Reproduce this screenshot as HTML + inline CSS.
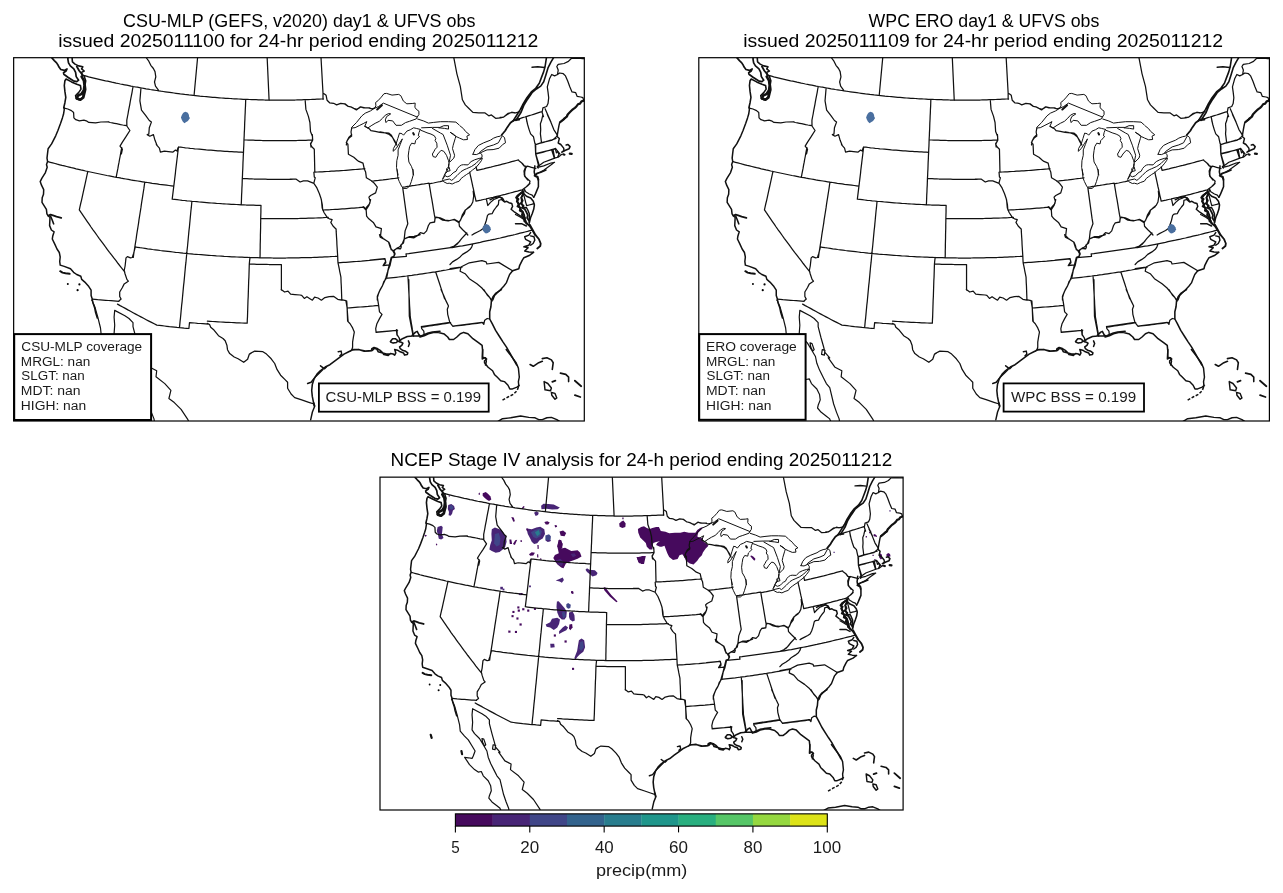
<!DOCTYPE html>
<html><head><meta charset="utf-8"><style>
html,body{margin:0;padding:0;background:#fff;overflow:hidden;width:1283px;height:893px;}
svg{display:block;font-family:"Liberation Sans",sans-serif;will-change:transform;}
</style></head><body>
<svg width="1283" height="893" viewBox="0 0 1283 893">
<defs><clipPath id="cTL"><rect x="13.65" y="57.7" width="570.65" height="363.3"/></clipPath><clipPath id="cTR"><rect x="698.8" y="57.7" width="570.6000000000001" height="363.3"/></clipPath><clipPath id="cBM"><rect x="380.0" y="477.15" width="523.1" height="332.85"/></clipPath><g id="map"><path d="M84.3,75.7 L86.4,76.2 L88.6,76.8 L90.7,77.3 L92.8,77.8 L94.9,78.3 L97.0,78.8 L99.1,79.3 L101.2,79.8 L103.3,80.3 L105.5,80.8 L107.6,81.2 L109.7,81.7 L111.8,82.2 L114.0,82.6 L116.1,83.1 L118.2,83.5 L120.3,84.0 L122.5,84.4 L124.6,84.8 L126.7,85.2 L128.9,85.6 L131.0,86.1 L133.1,86.5 L135.3,86.9 L137.4,87.2 L139.5,87.6 L141.7,88.0 L143.8,88.4 L146.0,88.8 L148.1,89.1 L150.2,89.5 L152.4,89.8 L154.5,90.2 L156.7,90.5 L158.8,90.8 L161.0,91.2 L163.1,91.5 L165.3,91.8 L167.4,92.1 L169.6,92.4 L171.7,92.7 L173.9,93.0 L176.0,93.3 L178.2,93.6 L180.3,93.9 L182.5,94.1 L184.7,94.4 L186.8,94.6 L189.0,94.9 L191.1,95.1 L193.3,95.4 L195.4,95.6 L197.6,95.8 L199.8,96.1 L201.9,96.3 L204.1,96.5 L206.3,96.7 L208.4,96.9 L210.6,97.1 L212.7,97.3 L214.9,97.4 L217.1,97.6 L219.2,97.8 L221.4,98.0 L223.6,98.1 L225.7,98.3 L227.9,98.4 L230.1,98.5 L232.2,98.7 L234.4,98.8 L236.6,98.9 L238.8,99.0 L240.9,99.1 L243.1,99.3 L245.3,99.3 L247.4,99.4 L249.6,99.5 L251.8,99.6 L253.9,99.7 L256.1,99.7 L258.3,99.8 L260.5,99.9 L262.6,99.9 L264.8,100.0 L267.0,100.0 L269.2,100.0 L271.3,100.1 L273.5,100.1 L275.7,100.1 L277.8,100.1 L280.0,100.1 L282.2,100.1 L284.4,100.1 L286.5,100.1 L288.7,100.1 L290.9,100.0 L293.0,100.0 L295.2,100.0 L297.4,99.9 L299.6,99.9 L301.7,99.8 L303.9,99.7 L306.1,99.7 L308.3,99.6 L310.4,99.5 L312.6,99.4 L314.8,99.3 L316.9,99.2 L319.1,99.1 L321.3,99.0 L323.4,98.9 M133.1,86.5 L132.5,89.5 L132.0,92.6 L131.4,95.7 L130.8,98.7 L130.2,101.8 L129.7,104.8 L129.1,107.9 L128.5,110.9 L128.0,114.0 L127.4,117.0 L126.8,120.1 L126.8,122.9 L126.9,125.7 M108.2,122.0 L110.2,122.5 L112.3,122.9 L114.4,123.3 L116.5,123.7 L118.5,124.1 L120.6,124.6 L122.7,125.0 L124.8,125.3 L126.9,125.7 M121.8,147.6 L121.2,150.5 L120.6,153.5 L120.1,156.5 L119.5,159.5 L119.0,162.4 L118.4,165.4 L117.9,168.4 L117.3,171.3 L116.7,174.3 L116.2,177.3 M48.0,161.7 L50.3,162.3 L52.7,162.9 L55.0,163.5 L57.3,164.2 L59.7,164.8 L62.0,165.4 L64.4,165.9 L66.7,166.5 L69.1,167.1 L71.4,167.7 L73.8,168.2 L76.1,168.8 L78.5,169.3 L80.8,169.9 L83.2,170.4 L85.6,171.0 L87.9,171.5 L90.3,172.0 L92.7,172.5 L95.0,173.0 L97.4,173.5 L99.8,174.0 L102.1,174.5 L104.5,175.0 L106.9,175.5 L109.3,175.9 L111.6,176.4 L114.0,176.9 L116.4,177.3 L118.8,177.7 L121.1,178.2 L123.5,178.6 L125.9,179.0 L128.3,179.4 L130.7,179.9 L133.1,180.3 L135.5,180.7 L137.8,181.0 L140.2,181.4 L142.6,181.8 L145.0,182.2 L147.4,182.5 L149.8,182.9 L152.2,183.3 L154.6,183.6 L157.0,183.9 L159.4,184.3 L161.8,184.6 L164.2,184.9 L166.6,185.2 L169.0,185.5 L171.4,185.8 L173.8,186.1 M87.8,171.5 L87.1,174.7 L86.4,177.9 L85.7,181.1 L85.0,184.3 L84.3,187.5 L83.6,190.7 L82.9,193.9 L82.2,197.1 L81.5,200.3 L80.7,203.5 L80.0,206.7 L79.3,209.8 L81.2,212.7 L83.2,215.6 L85.1,218.4 L87.1,221.3 L89.1,224.1 L91.0,227.0 L93.0,229.8 L95.1,232.6 L97.1,235.5 L99.1,238.3 L101.2,241.1 L103.3,243.9 L105.3,246.7 L107.4,249.5 L109.5,252.3 L111.7,255.1 L113.8,257.9 L116.0,260.7 L118.1,263.5 L120.3,266.3 L122.5,269.1 L124.7,271.9 M144.8,182.1 L144.3,185.3 L143.9,188.4 L143.4,191.5 L142.9,194.7 L142.4,197.8 L141.9,200.9 L141.4,204.1 L141.0,207.2 L140.5,210.3 L140.0,213.5 L139.5,216.6 L139.0,219.7 L138.6,222.8 L138.1,226.0 L137.6,229.1 L137.1,232.2 L136.6,235.3 L136.2,238.5 L135.7,241.6 L135.2,244.7 L134.7,247.9 L134.2,251.0 L133.7,254.1 L133.3,257.3 M92.3,299.2 L95.0,299.4 L97.7,299.7 L100.3,299.9 L103.0,300.1 L105.7,300.3 L108.3,300.5 L111.0,300.7 L113.7,300.9 L116.3,301.1 L119.0,301.3 M117.5,304.1 L120.1,305.6 L122.7,307.0 L125.3,308.4 L127.9,309.9 L130.5,311.3 L133.1,312.7 L135.7,314.1 L138.3,315.5 L140.9,316.9 L143.6,318.3 L146.2,319.7 L148.9,321.1 L151.5,322.4 L154.2,323.8 L156.8,325.1 L159.4,325.4 L161.9,325.7 L164.4,326.0 L166.9,326.3 L169.4,326.6 L171.9,326.8 L174.5,327.1 L177.0,327.4 L179.5,327.6 M134.9,246.9 L137.4,247.3 L139.9,247.7 L142.5,248.0 L145.0,248.4 L147.6,248.8 L150.1,249.1 L152.6,249.5 L155.2,249.8 L157.7,250.1 L160.3,250.5 L162.8,250.8 L165.4,251.1 L167.9,251.4 L170.5,251.7 L173.0,252.0 L175.5,252.3 L178.1,252.5 L180.7,252.8 L183.2,253.1 L185.8,253.3 L188.3,253.6 L190.9,253.8 L193.4,254.1 L196.0,254.3 L198.5,254.5 L201.1,254.7 L203.6,254.9 L206.2,255.1 L208.8,255.3 L211.3,255.5 L213.9,255.7 L216.4,255.9 L219.0,256.0 L221.6,256.2 L224.1,256.4 L226.7,256.5 L229.2,256.6 L231.8,256.8 L234.4,256.9 L236.9,257.0 L239.5,257.1 L242.0,257.2 L244.6,257.3 L247.2,257.4 L249.7,257.5 L252.3,257.6 L254.9,257.7 L257.4,257.7 L260.0,257.8 M178.5,147.0 L178.1,150.2 L177.7,153.5 L177.3,156.8 L176.9,160.0 L176.5,163.3 L176.1,166.6 L175.7,169.8 L175.4,173.1 L175.0,176.3 L174.6,179.6 L174.2,182.9 L173.8,186.1 L173.4,189.4 L173.0,192.6 L172.6,195.9 L172.2,199.1 L174.7,199.4 L177.1,199.7 L179.6,200.0 L182.1,200.3 L184.5,200.5 L187.0,200.8 L189.4,201.0 L191.9,201.3 M178.5,147.0 L180.8,147.2 L183.1,147.5 L185.4,147.8 L187.8,148.0 L190.1,148.3 L192.4,148.5 L194.7,148.8 L197.0,149.0 L199.3,149.2 L201.7,149.4 L204.0,149.6 L206.3,149.9 L208.6,150.1 L210.9,150.2 L213.3,150.4 L215.6,150.6 L217.9,150.8 L220.2,150.9 L222.5,151.1 L224.9,151.3 L227.2,151.4 L229.5,151.6 L231.8,151.7 L234.2,151.8 L236.5,151.9 L238.8,152.1 L241.1,152.2 L243.5,152.3 M245.7,99.4 L245.6,102.7 L245.5,106.0 L245.3,109.3 L245.2,112.6 L245.0,116.0 L244.9,119.3 L244.7,122.6 L244.6,125.9 L244.5,129.2 L244.3,132.5 L244.2,135.8 L244.0,139.1 L243.9,142.4 L243.8,145.7 L243.6,149.0 L243.5,152.3 L243.3,155.6 L243.2,158.8 L243.0,162.1 L242.9,165.4 L242.8,168.7 L242.6,172.0 L242.5,175.3 L242.3,178.5 L242.2,181.8 L242.1,185.1 L241.9,188.4 L241.8,191.7 L241.6,194.9 L241.5,198.2 L241.4,201.5 L241.2,204.8 M191.9,201.3 L194.4,201.5 L196.8,201.7 L199.3,202.0 L201.7,202.2 L204.2,202.4 L206.7,202.6 L209.1,202.8 L211.6,203.0 L214.1,203.2 L216.5,203.4 L219.0,203.5 L221.5,203.7 L223.9,203.8 L226.4,204.0 L228.9,204.1 L231.3,204.3 L233.8,204.4 L236.3,204.5 L238.7,204.6 L241.2,204.8 L243.7,204.9 L246.2,205.0 L248.6,205.0 L251.1,205.1 L253.6,205.2 L256.0,205.3 L258.5,205.3 L261.0,205.4 L260.9,208.7 L260.9,211.9 L260.8,215.2 L260.7,218.5 L263.2,218.5 L265.7,218.6 L268.2,218.6 L270.7,218.6 L273.2,218.7 L275.7,218.7 L278.2,218.7 L280.8,218.7 L283.3,218.7 L285.8,218.7 L288.3,218.6 L290.8,218.6 L293.3,218.6 L295.8,218.5 L298.3,218.5 L300.8,218.4 L303.3,218.4 L305.8,218.3 L308.3,218.2 L310.8,218.2 L313.3,218.1 L315.8,218.0 L318.3,217.9 L320.8,217.8 L323.3,217.7 L325.8,217.5 L328.3,217.4 M191.9,201.3 L191.6,204.5 L191.3,207.7 L190.9,211.0 L190.6,214.2 L190.3,217.4 L190.0,220.7 L189.7,223.9 L189.4,227.1 L189.0,230.4 L188.7,233.6 L188.4,236.8 L188.1,240.1 L187.8,243.3 L187.5,246.5 L187.1,249.8 L186.8,253.0 L186.5,256.2 L186.2,259.5 L185.9,262.7 L185.5,265.9 L185.2,269.2 L184.9,272.4 L184.6,275.7 L184.3,278.9 L184.0,282.1 L183.6,285.4 L183.3,288.6 L183.0,291.9 L182.7,295.1 L182.4,298.3 L182.1,301.6 L181.7,304.8 L181.4,308.1 L181.1,311.3 L180.8,314.6 L180.5,317.8 L180.1,321.1 L179.8,324.4 L179.5,327.6 M261.0,205.4 L260.9,208.7 L260.9,211.9 L260.8,215.2 L260.7,218.5 L260.7,221.8 L260.6,225.0 L260.6,228.3 L260.5,231.6 L260.4,234.9 L260.4,238.1 L260.3,241.4 L260.2,244.7 L260.2,248.0 L260.1,251.2 L260.1,254.5 L260.0,257.8 M244.0,139.9 L246.3,140.0 L248.6,140.1 L250.9,140.2 L253.2,140.2 L255.5,140.3 L257.7,140.4 L260.0,140.4 L262.3,140.5 L264.6,140.5 L266.9,140.6 L269.2,140.6 L271.5,140.6 L273.8,140.6 L276.1,140.6 L278.4,140.7 L280.7,140.7 L282.9,140.6 L285.2,140.6 L287.5,140.6 L289.8,140.6 L292.1,140.6 L294.4,140.5 L296.7,140.5 L299.0,140.4 L301.3,140.4 L303.6,140.3 L305.9,140.3 L308.2,140.2 L310.4,140.1 L312.7,140.0 M242.3,178.5 L244.7,178.6 L247.0,178.7 L249.3,178.8 L251.6,178.9 L253.9,179.0 L256.2,179.0 L258.6,179.1 L260.9,179.1 L263.2,179.2 L265.5,179.2 L267.8,179.3 L270.1,179.3 L272.5,179.3 L274.8,179.3 L277.1,179.3 L279.4,179.4 L281.7,179.3 L284.0,179.3 L286.4,179.3 L288.7,179.3 L291.0,179.3 L293.3,179.2 L295.6,179.2 M250.0,257.5 L249.6,260.8 L249.3,264.1 L251.8,264.1 L254.2,264.2 L256.7,264.3 L259.2,264.3 L261.6,264.4 L264.1,264.4 L266.6,264.4 L269.0,264.5 L271.5,264.5 L274.0,264.5 L276.4,264.5 L278.9,264.5 L281.4,264.5 L281.4,267.7 L281.4,270.9 L281.4,274.1 L281.4,277.3 L281.4,280.4 L281.4,283.6 L281.4,286.8 L281.4,290.0 M249.3,264.1 L249.2,267.3 L249.1,270.6 L249.0,273.9 L248.9,277.2 L248.7,280.4 L248.6,283.7 L248.5,287.0 L248.4,290.3 L248.3,293.6 L248.2,296.8 L248.0,300.1 L247.9,303.4 L247.8,306.7 L247.7,310.0 L247.6,313.3 L247.5,316.6 L247.3,319.9 L247.2,323.2 L244.6,323.1 L241.9,323.0 L239.3,322.9 L236.6,322.8 L234.0,322.6 L231.3,322.5 L228.6,322.4 L226.0,322.3 L223.3,322.1 L220.7,322.0 L218.0,321.8 L215.4,321.6 L212.7,321.5 L210.1,321.3 L207.4,321.1 M208.2,324.1 L205.6,323.9 L202.9,323.7 L200.2,323.5 L197.5,323.3 L194.8,323.0 L192.1,322.8 L189.5,322.6 L189.2,325.5 L188.9,328.5 L186.6,328.3 L184.2,328.1 L181.9,327.8 L179.5,327.6 M336.1,228.8 L336.2,231.9 L336.4,235.0 L336.6,238.0 L336.8,241.1 L336.9,244.2 L337.1,247.3 L337.3,250.4 L337.5,253.5 L337.7,256.6 L337.8,259.7 L338.0,262.8 M260.0,257.8 L262.6,257.8 L265.2,257.9 L267.8,257.9 L270.3,257.9 L272.9,258.0 L275.5,258.0 L278.1,258.0 L280.7,258.0 L283.3,258.0 L285.9,258.0 L288.5,257.9 L291.1,257.9 L293.6,257.9 L296.2,257.8 L298.8,257.8 L301.4,257.7 L304.0,257.7 L306.6,257.6 L309.2,257.5 L311.8,257.5 L314.3,257.4 L316.9,257.3 L319.5,257.2 L322.1,257.1 L324.7,256.9 L327.3,256.8 L329.9,256.7 L332.4,256.5 L335.0,256.4 L337.6,256.2 M338.0,262.8 L340.6,262.6 L343.2,262.4 L345.8,262.3 L348.5,262.1 L351.1,261.9 L353.7,261.7 L356.3,261.5 L358.9,261.3 L361.5,261.1 L364.1,260.8 L366.7,260.6 L369.3,260.4 L371.9,260.1 L374.5,259.9 L377.1,259.6 L379.7,259.3 L382.3,259.1 L384.9,258.8 M383.3,265.5 L385.6,265.3 L387.8,265.1 L390.1,264.8 M338.0,262.8 L338.6,265.6 L339.2,268.5 L339.7,271.3 L340.3,274.2 L340.9,277.1 L341.0,279.9 L341.1,282.8 L341.3,285.7 L341.4,288.6 L341.5,291.5 L341.6,294.4 L341.7,297.3 L341.8,300.2 M346.7,301.0 L346.9,303.4 L347.0,305.7 L347.2,308.0 L349.8,307.8 L352.4,307.6 L355.1,307.4 L357.7,307.2 L360.3,307.0 L363.0,306.8 L365.6,306.6 L368.2,306.4 L370.9,306.1 L373.5,305.9 L376.1,305.6 L378.7,305.4 M347.2,308.0 L347.3,310.7 L347.5,313.4 L347.7,316.1 L347.9,318.8 L348.1,321.5 M376.1,332.4 L378.7,332.1 L381.4,331.9 L384.1,331.6 L386.8,331.3 L389.5,331.1 L392.2,330.8 L394.9,330.5 L397.6,330.2 M385.4,278.5 L388.0,278.2 L390.7,277.9 L393.4,277.6 L396.0,277.3 L398.7,277.0 L401.3,276.7 L404.0,276.3 L406.6,276.0 L409.3,275.6 L411.9,275.3 L414.6,274.9 L417.2,274.6 L419.9,274.2 L422.5,273.8 L425.2,273.4 L427.8,273.0 L430.4,272.6 L433.1,272.2 L435.7,271.8 L438.4,271.3 L441.0,270.9 L443.6,270.4 L446.3,270.0 L448.9,269.5 L451.5,269.1 L454.2,268.6 L456.8,268.1 L459.4,267.6 L462.1,267.1 M407.9,275.8 L408.1,279.0 L408.3,282.1 L408.5,285.2 L408.6,288.4 L408.8,291.5 L409.0,294.6 L409.2,297.8 L409.4,300.9 L409.5,304.1 L409.7,307.2 L409.9,310.4 L410.1,313.5 L410.2,316.7 L410.8,319.9 L411.3,323.2 L411.9,326.4 L412.4,329.7 L413.0,332.9 L413.6,336.2 M435.6,271.8 L436.6,274.8 L437.6,277.8 L438.6,280.8 L439.6,283.8 L440.6,286.9 L441.6,289.9 L442.6,292.9 L443.6,295.9 L444.6,298.9 M421.5,327.1 L424.2,326.8 L426.8,326.4 L429.5,326.0 L432.1,325.6 L434.8,325.2 L437.4,324.8 L440.1,324.4 L442.7,324.0 L445.4,323.6 L448.0,323.1 L450.6,322.7 M452.9,326.3 L455.6,326.0 L458.4,325.7 L461.1,325.4 L463.8,325.1 L466.6,324.7 L469.3,324.4 L472.0,324.0 L474.8,323.7 L477.5,323.3 L480.2,322.9 L483.0,322.5 M472.8,243.8 L475.3,243.3 L477.8,242.8 L480.3,242.3 L482.8,241.7 L485.3,241.2 L487.8,240.7 L490.3,240.2 L492.8,239.6 L495.3,239.1 L497.8,238.5 L500.3,238.0 L502.8,237.4 L505.2,236.8 L507.7,236.2 L510.2,235.6 L512.7,235.1 L515.2,234.5 L517.6,233.8 L520.1,233.2 L522.6,232.6 L525.0,232.0 L527.5,231.4 L530.0,230.7 L532.4,230.1 M452.2,247.6 L454.7,247.2 L457.3,246.7 L459.9,246.2 L462.5,245.8 L465.1,245.3 L467.7,244.8 L470.3,244.3 L472.8,243.8 M476.0,201.2 L478.5,200.6 L480.9,200.1 L483.4,199.5 L485.8,199.0 L488.3,198.4 L490.7,197.8 L493.1,197.3 L495.6,196.7 L498.0,196.1 L500.5,195.5 L502.9,194.9 L505.3,194.3 L507.8,193.6 L510.2,193.0 L512.6,192.4 L515.0,191.7 L517.5,191.1 L519.9,190.4 L522.3,189.8 M473.5,189.4 L472.8,186.5 L472.2,183.7 L471.6,180.8 L471.0,178.0 L470.3,175.1 L469.7,172.2 M476.0,201.2 L475.4,198.2 L474.7,195.3 L474.1,192.3 L473.5,189.4 M486.3,198.9 L486.8,201.1 L487.3,203.3 L487.8,205.5 M476.1,166.9 L476.5,168.6 L476.9,170.4 L479.2,169.8 L481.5,169.3 L483.8,168.8 L486.2,168.2 L488.5,167.6 L490.8,167.1 L493.1,166.5 L495.4,165.9 L497.7,165.4 L500.0,164.8 L502.3,164.2 L504.7,163.6 L507.0,163.0 L509.3,162.4 L511.6,161.7 L513.9,161.1 L516.2,160.5 L518.5,159.9 M522.3,189.8 L523.0,192.4 L523.8,195.1 L524.5,197.7 L525.2,200.4 L525.9,203.1 L526.7,205.7 L529.1,205.0 L531.5,204.4 L534.0,203.7 M434.9,217.4 L434.3,214.4 L433.8,211.3 L433.3,208.3 L432.8,205.2 L432.3,202.2 L431.8,199.1 L431.2,196.1 L430.7,193.0 L430.2,189.9 L429.7,186.9 L429.2,183.8 M429.2,183.8 L431.4,183.4 L433.5,183.0 L435.7,182.5 L437.9,182.0 L440.1,181.6 L442.3,181.1 M402.9,187.1 L405.3,186.8 L407.7,186.4 L410.1,186.1 L412.4,185.7 L414.8,185.4 L417.2,185.0 L419.6,184.6 L421.9,184.2 L424.3,183.9 L426.7,183.5 L429.0,183.1 M371.6,181.1 L373.9,180.9 L376.2,180.6 L378.5,180.4 L380.7,180.1 L383.0,179.9 L385.3,179.6 L387.6,179.3 L389.8,179.0 L392.1,178.7 L394.4,178.5 L396.6,178.2 L398.9,177.8 M315.0,172.1 L317.4,172.0 L319.8,171.9 L322.2,171.8 L324.5,171.6 L326.9,171.5 L329.3,171.4 L331.6,171.2 L334.0,171.1 L336.4,170.9 L338.7,170.8 L341.1,170.6 L343.5,170.5 L345.8,170.3 L348.2,170.1 L350.6,169.9 L352.9,169.7 L355.3,169.5 L357.7,169.3 L360.0,169.1 L362.4,168.9 L364.8,168.6 M323.4,210.0 L325.7,209.9 L328.1,209.8 L330.4,209.7 L332.8,209.5 L335.2,209.4 L337.5,209.3 L339.9,209.1 L342.2,208.9 L344.6,208.8 L347.0,208.6 L349.3,208.4 L351.7,208.2 L354.0,208.1 L356.4,207.9 L358.7,207.7 L361.1,207.4 L363.5,207.2 M527.1,166.1 L529.2,166.7 L531.4,167.3 L533.6,167.9 L535.9,168.5 M535.2,144.7 L537.3,144.1 L539.4,143.5 L541.5,142.9 L543.6,142.3 L545.7,141.7 L547.8,141.0 L549.9,140.4 L552.0,139.8 L554.1,139.1 L556.1,138.5 M535.8,154.2 L538.0,153.5 L540.3,152.9 L542.6,152.3 L544.8,151.6 L547.1,151.0 L549.4,150.3 L551.6,149.6 M551.6,149.6 L552.5,152.6 L553.5,155.5 L554.4,158.4 M551.6,149.6 L553.6,149.0 L555.5,148.4 L557.0,150.3 L558.5,152.2 L560.0,154.1 M535.2,144.7 L535.4,147.9 L535.5,151.0 L535.7,154.2 M535.8,154.2 L536.6,156.8 L537.4,159.4 L538.2,162.0 L539.0,164.7 L537.1,166.8 L538.2,168.1 M513.8,120.2 L516.0,119.6 L518.2,118.9 L520.4,118.3 L522.6,117.6 L524.8,117.0 L527.0,116.3 L529.2,115.6 L531.4,115.0 L533.6,114.3 L535.7,113.6 L537.9,112.9 L540.1,112.2 L542.3,111.5 M250.0,257.5 L252.5,257.6 L255.0,257.7 L257.5,257.7 L260.0,257.8 M64.2,108.1 L67.8,109.0 L71.4,110.6 L73.6,112.5 L73.9,117.9 L75.8,119.7 L79.4,120.8 L83.9,120.2 L87.0,121.2 L88.8,122.4 L95.6,122.8 L100.9,122.0 L109.0,121.8 M126.5,125.5 L129.9,130.5 L126.0,136.7 L122.4,142.1 L120.0,146.1 L122.4,149.1 L121.4,153.8 M124.2,270.5 L125.1,274.0 L126.9,279.4 L128.3,281.2 L124.2,283.9 L122.4,287.5 L119.7,292.0 L119.7,296.5 L121.1,299.1 L118.9,300.9 M124.2,270.5 L125.1,266.0 L126.0,257.9 L127.4,256.6 L130.5,257.9 L132.3,257.5 L133.6,253.4 L135.4,246.7 M321.0,57.5 L323.0,93.3 M323.0,93.3 L324.1,93.8 L326.1,95.3 L327.1,100.3 L329.6,102.8 L333.6,103.3 L336.6,104.9 L340.7,103.3 L344.7,103.9 L348.2,106.4 L350.8,106.9 L353.8,108.4 L356.8,109.4 L360.8,106.9 L364.9,107.9 L370.0,107.9 M323.0,99.3 L323.0,93.3 M305.2,100.8 L305.9,109.4 L308.4,116.4 L309.9,122.5 L310.5,131.6 L312.5,136.6 L312.5,140.6 L310.5,143.6 L311.0,147.0 M267.1,56.5 L269.1,100.3 M345.0,103.8 L348.4,106.5 L351.7,107.2 L356.4,109.9 L360.4,106.8 L363.8,107.8 L368.5,107.8 L371.9,108.8 L374.6,108.2 M351.7,128.0 L351.0,132.0 L351.7,136.0 L349.0,138.1 L347.0,140.8 L346.3,145.0 M364.8,126.3 L369.2,128.7 L370.9,130.7 L375.2,131.3 L379.9,132.4 L385.3,133.0 L389.3,134.4 L392.0,136.7 L394.7,140.8 L396.7,145.0 M380.0,131.8 L384.0,132.5 L388.7,133.1 L391.4,135.2 L393.1,138.5 L394.8,141.9 L396.1,143.9 M146.1,57.5 L148.8,61.2 L150.8,65.3 L153.4,68.5 L155.0,71.6 L155.8,76.8 L154.5,82.0 L155.5,86.2 L158.6,90.3 M197.7,56.5 L194.1,95.0 M140.9,88.8 L139.9,100.8 L141.5,110.1 L145.6,115.3 L149.3,120.5 L151.4,122.1 L149.3,127.8 L148.8,134.1 L147.2,134.6 L149.8,136.2 L153.4,134.6 L155.0,140.3 L157.1,145.5 M156.3,144.6 L159.4,148.1 L160.4,152.1 L164.4,151.1 L168.4,151.6 L173.0,152.1 L175.5,150.1 L177.0,151.1 L178.0,147.6 M473.2,191.1 L473.7,196.1 L472.8,202.0 L471.1,205.3 L467.8,207.9 L465.3,210.4 L464.4,213.7 L461.9,217.1 L460.2,220.5 L459.0,222.6 L454.3,219.6 L449.3,220.5 L445.1,220.0 L440.1,217.9 L435.9,217.1 L435.0,218.8 L434.6,222.1 L430.0,223.0 M459.0,222.6 L459.4,226.3 L462.7,229.7 L466.1,233.0 L467.8,235.0 M503.9,201.6 L501.4,199.5 L498.8,200.3 L498.4,204.5 L496.3,207.0 L493.8,210.4 L492.1,213.7 L488.8,214.2 L487.5,215.4 L486.3,220.5 L484.6,225.5 L482.9,228.8 L480.4,230.5 L477.0,232.2 L473.7,233.9 L472.0,235.0 M487.9,205.3 L490.5,202.4 L493.8,199.5 L497.2,198.2 L499.3,196.9 L502.2,197.8 L503.9,201.6 M519.0,160.8 L522.4,163.4 L524.9,166.7 L526.6,167.1 M525.7,166.7 L524.0,170.9 L524.5,176.0 L526.6,178.5 L529.9,181.0 M529.9,183.5 L527.4,186.0 L524.0,188.5 L522.4,189.8 M500.0,117.4 L502.9,117.4 L507.3,114.5 L511.6,112.3 L514.6,113.0 M542.9,107.9 L546.6,106.5 L548.0,103.6 L548.7,97.7 L548.0,91.9 L547.3,86.8 L549.5,78.8 L551.7,74.5 L554.6,75.9 L557.5,74.5 L559.7,73.0 L563.3,73.7 L565.5,75.9 L567.7,81.0 L569.8,86.8 L572.0,91.9 L575.7,92.7 L577.1,96.3 L580.8,97.0 L582.9,97.7 L583.7,100.7 M557.5,74.5 L558.2,70.1 L556.8,66.5 L558.2,64.3 L564.0,63.5 L568.4,61.4 L571.3,58.5 L576.4,58.1 L581.5,58.5 L584.4,58.5 M542.9,107.9 L542.1,112.3 L543.5,116.7 M545.1,108.7 L550.9,122.0 M526.2,117.4 L526.9,122.0 M526.2,117.9 L527.6,124.5 L529.1,129.6 L530.6,133.9 L533.5,136.8 L534.9,143.4 L535.7,144.5 M542.9,114.6 L541.5,120.8 L540.4,123.7 L540.7,129.6 L540.4,133.9 L541.5,142.6 M547.3,114.6 L550.9,122.3 L553.8,129.6 L557.5,135.4 M535.7,144.5 L541.5,142.6 L552.4,140.1 L555.3,137.6 L557.5,135.7 M535.7,153.6 L552.4,149.6 L555.3,148.8 M553.1,149.9 L554.6,157.9 M535.7,144.5 L535.7,154.3 L538.6,165.9 M521.8,163.0 L524.0,165.9 L526.2,166.3 L524.7,171.8 L524.7,176.1 L527.6,180.0 M524.9,170.0 L524.2,174.4 L525.7,177.3 L530.0,181.3 L529.3,183.8 L526.4,186.7 L524.2,188.6 M450.0,247.7 L454.2,246.0 L458.4,242.6 L461.8,238.4 L466.8,233.0 M472.7,244.3 L471.8,246.8 L470.2,249.3 L466.8,251.9 L462.6,254.4 L460.1,256.9 L456.7,259.4 L452.5,261.9 L450.0,264.5 M450.0,268.7 L460.9,267.0 L469.3,262.8 L481.9,260.7 L486.1,261.9 L486.9,264.0 L498.7,262.4 L512.6,270.8 M460.9,267.4 L460.1,271.2 L465.1,273.7 L469.3,278.7 L476.9,283.8 L481.9,288.0 L485.3,292.2 L489.5,297.2 L491.1,300.0 M441.0,289.6 L443.5,295.0 L446.0,300.9 L448.5,306.0 L447.3,309.3 L447.7,314.3 L449.0,319.4 L449.8,322.3 M449.8,322.3 L452.7,326.1 L482.1,322.3 L483.8,324.4 L484.7,320.2 L487.2,318.5 L489.7,319.0 M421.3,326.5 L421.7,328.6 L423.8,331.1 L424.2,335.3 M421.3,326.5 L449.8,322.3 M483.8,289.6 L487.2,295.0 L490.5,298.4 L492.2,300.9 M341.3,299.7 L345.9,300.6 L347.1,307.7 M347.1,307.7 L347.6,321.1 L350.1,323.7 L352.6,327.9 L354.3,332.1 L353.4,337.1 L352.6,342.1 L352.6,347.2 L351.8,349.7 M385.3,279.6 L382.8,285.0 L380.3,289.2 L378.6,293.4 L377.4,297.6 L378.6,305.2 L379.5,311.9 L382.0,314.4 L379.5,318.6 L376.9,323.7 L375.7,328.7 L376.1,332.1 M376.1,332.1 L397.1,330.4 M397.1,330.4 L397.1,334.6 L399.6,338.8 L400.5,340.5 M408.8,279.6 L409.3,316.1 L413.0,335.4 M250.0,353.5 L254.7,351.1 L262.9,351.7 L266.5,354.1 L271.2,358.8 L274.7,363.5 L277.0,369.4 L280.6,375.2 L285.3,379.9 L287.6,382.3 L287.6,388.2 L291.1,394.0 L294.7,397.6 L301.7,399.9 L308.8,402.3 L314.1,404.0 M207.3,323.4 L209.6,324.5 L210.7,327.3 L214.0,330.1 L218.5,335.7 L223.0,338.5 L225.2,340.8 L226.9,345.2 L227.5,349.7 L229.7,353.6 L234.2,357.0 L238.1,358.7 L243.7,362.3 L247.6,359.2 L249.3,354.2 L251.0,353.5 M312.3,134.6 L312.7,140.0 L310.6,144.2 L311.8,146.8 L314.3,149.3 L314.8,171.9 L313.9,172.4 M313.9,172.4 L314.3,177.0 L315.2,177.8 L313.9,182.9 M290.0,179.1 L295.9,179.1 L300.1,182.0 L303.4,180.8 L307.6,180.8 L313.9,183.3 M313.9,183.3 L316.9,187.9 L319.4,193.8 L321.1,198.8 L322.3,204.7 L322.7,210.0 M363.0,206.8 L366.0,210.0 M351.7,134.6 L348.8,137.5 L347.1,140.9 L346.3,142.6 L347.9,144.2 L348.4,154.3 L353.8,157.3 L357.2,160.2 L358.8,161.4 L363.0,163.1 L364.3,169.0 M364.3,169.0 L365.6,171.9 L366.4,177.8 L371.4,180.8 L374.0,182.9 L377.3,187.1 L375.6,192.9 L370.6,195.5 L368.9,197.1 L370.2,201.3 L368.9,205.5 L366.0,210.0 M321.4,199.6 L322.2,208.1 L324.0,212.5 L326.7,216.6 L327.6,217.9 L329.4,218.8 L332.1,219.7 L330.8,222.4 L333.0,226.0 L335.7,228.7 M385.0,258.7 L385.8,262.7 L383.2,265.4 L389.4,264.9 M370.6,199.6 L369.7,203.6 L366.6,207.2 L366.1,209.0 L366.6,216.1 L368.8,218.8 L373.3,222.4 L376.0,226.9 L381.4,228.7 L380.5,235.8 L383.2,238.5 L388.5,242.1 L390.3,247.5 L393.0,251.1 L394.4,253.7 L393.9,256.4 L391.2,257.3 L389.4,264.5 L387.6,271.7 L385.8,277.9 L385.0,280.0 M363.5,206.7 L366.1,209.0 M393.9,250.2 L396.6,248.4 L400.0,248.8 M402.8,188.4 L406.9,218.4 L407.8,223.7 L405.1,230.9 L404.2,239.0 M435.1,217.0 L434.6,221.9 L430.1,222.8 L428.4,225.5 L426.6,230.9 L423.9,233.6 L420.3,232.7 L417.6,235.4 L414.0,236.3 L409.6,236.7 L406.0,238.1 L404.2,239.0 L402.4,243.4 L400.6,246.1 L397.9,247.9 L394.3,250.0 M435.1,217.5 L438.2,217.5 L442.7,220.1 L448.1,221.0 L454.3,219.3 L458.8,221.9 L460.6,220.1 L462.4,214.8 L465.1,210.3 L470.0,206.7 M379.5,234.6 L380.2,237.2 L384.6,239.4 L388.9,242.3 L390.4,245.9 L391.1,249.6 L394.0,251.0 M394.0,250.7 L396.9,248.1 L400.6,248.8 L401.3,246.7 L400.6,245.2 L403.5,243.0 L404.2,239.4 L405.0,238.6 L408.6,237.2 L413.7,237.9 L417.3,235.7 L420.2,234.6 M394.0,251.0 L395.1,253.9 L394.0,256.1 L391.8,257.6 L390.8,261.9 L390.0,265.6 L388.2,270.0 L387.1,275.8 L386.4,278.3 L383.8,281.6 L382.4,286.0 L379.5,291.1 L377.3,296.2 L377.3,300.0 M391.8,257.7 L406.4,256.3 L406.0,253.9 L408.6,253.6 L452.3,247.4 L456.7,244.5 L460.0,240.8 M370.0,260.1 L384.6,258.7 L385.7,261.2 L383.1,265.6 L390.0,264.9 M453.6,56.6 L456.9,73.8 L460.3,86.4 L462.4,99.8 L465.3,104.9 L468.7,108.2 L472.9,112.4 L478.8,112.8 L484.7,112.8 L488.8,115.8 L491.4,114.9 L495.6,118.3 L500.6,117.9 L504.0,116.8 L508.2,113.3 L512.4,112.4 L515.7,112.8 L520.0,111.6 M281.2,289.4 L284.6,292.0 L288.0,291.2 L290.6,294.2 L294.9,294.6 L300.0,295.0 L301.7,295.4 L304.3,298.4 L306.9,296.7 L310.3,298.9 L312.4,300.2 L314.6,297.2 L318.0,298.0 L321.4,300.2 L324.9,297.6 L329.2,296.7 L333.5,296.3 L337.7,299.3 L341.6,300.2 M396.4,329.7 L396.9,334.9 L399.1,337.6 L399.6,340.4" fill="none" stroke="#111" stroke-width="1.25" stroke-linejoin="round" stroke-linecap="round" vector-effect="non-scaling-stroke"/><path d="M51.9,57.9 L54.3,60.6 L56.6,62.9 L57.8,64.7 L59.0,67.1 L60.8,69.5 L64.3,70.4 L67.0,68.9 L66.1,71.0 L63.5,72.7 L63.8,74.2 L67.9,77.2 L73.3,80.8 L76.8,81.6 L78.6,80.2 L76.2,76.6 L75.6,72.4 L73.8,68.9 L70.3,65.9 L68.5,62.9 L67.9,59.4 L67.9,57.6" fill="none" stroke="#111" stroke-width="1.7" stroke-linejoin="round" stroke-linecap="round" vector-effect="non-scaling-stroke"/><path d="M72.1,57.6 L72.4,61.8 L75.0,64.1 L78.6,65.9 L82.8,66.8 L81.6,68.9 L84.2,71.0 L81.6,72.4 L82.2,74.8 L84.5,76.0 M84.5,76.0 L84.5,77.2 L85.7,80.8 L85.1,84.3 L85.7,89.1 L83.9,92.6 L82.8,97.4 L79.2,99.8 L76.2,98.6 L75.6,95.6 L78.6,92.6 L81.0,89.1 L80.4,85.5 L76.8,84.3 L71.5,81.9 L66.1,79.0 L64.9,80.8 L64.3,85.5 L64.9,91.4 L65.8,97.4 L64.9,102.7 L63.8,107.5 L64.2,108.1 M50.6,216.2 L52.0,219.5 L53.6,223.8 M546.6,56.6 L545.1,66.5 L543.7,71.6 L541.5,77.4 L539.3,83.2 L535.7,88.3 L531.3,91.9 L526.9,97.7 L523.3,103.6 L520.4,109.4 L516.7,115.2 L513.1,121.0 M554.2,56.6 L550.9,62.1 L548.0,67.9 L545.8,75.2 L543.7,81.7 L540.7,86.1 L536.4,89.0 L532.0,92.7 L527.6,99.2 L524.0,105.0 L521.1,112.3 L516.0,120.3 M561.8,152.1 L565.5,150.3 L569.1,148.8 L570.0,146.6 L568.0,144.5 L566.2,145.0 M530.1,364.5 L533.3,366.3 L538.7,362.7 L542.3,361.3 M542.3,358.6 L546.9,357.7 L551.4,359.9 L553.2,362.7 L552.7,366.3 L552.3,369.4 M560.4,373.1 L565.8,374.4 L568.6,377.1 L568.6,381.6" fill="none" stroke="#111" stroke-width="1.6" stroke-linejoin="round" stroke-linecap="round" vector-effect="non-scaling-stroke"/><path d="M64.2,108.1 L64.2,109.9 L63.5,114.3 L62.4,117.9 L60.6,123.3 L57.9,130.5 L55.7,135.8 L53.9,139.4 L51.6,143.9 L48.1,148.8 L47.6,152.9 L47.0,158.2 L47.6,161.6 L46.5,164.5 L47.2,167.2 L45.4,172.6 L41.8,178.4 L40.2,181.6 L41.5,185.2 L43.7,189.7 L43.5,194.2 L42.2,197.8 L42.0,202.3 L44.2,205.8 L46.4,209.4 L46.9,213.9 L48.2,215.7 L50.0,217.5 L49.6,225.6 L51.4,230.0 L54.1,231.8 L52.7,236.3 L52.3,239.0 L54.9,244.4 L57.0,249.0 L59.3,252.5 L60.2,257.0 L59.7,261.5 L60.2,265.1 L64.2,266.4 L70.5,268.7 L73.6,272.3 L76.7,274.5 L80.8,276.3 L81.7,279.4 L84.8,282.1 L88.8,286.6 L91.1,290.2 L91.1,295.6 L92.0,298.2 L92.9,302.7 L94.7,308.1 L95.6,312.6 L97.3,318.0 M523.1,193.3 L521.3,197.6 L522.0,204.2 L524.2,207.8 L526.4,207.5 L527.8,210.0 L529.3,213.7 L529.3,218.0 L529.3,222.4 M515.5,223.8 L522.0,223.8 L526.4,226.0 M533.5,252.3 L528.9,251.9 L524.7,251.0 L528.1,247.7 L523.9,246.8 L528.9,245.2 L530.6,241.8 L525.6,239.3 L524.7,236.8 L528.9,235.1 L530.6,232.6 M408.4,340.9 L409.5,343.6 L408.4,346.4" fill="none" stroke="#111" stroke-width="1.5" stroke-linejoin="round" stroke-linecap="round" vector-effect="non-scaling-stroke"/><path d="M48.2,215.7 L50.5,214.6 L53.0,215.3 L56.5,216.6 L61.2,217.9 M501.8,134.8 L505.2,130.7 L507.2,127.4 L510.5,122.7 L513.9,120.3 L519.3,119.7 M522.4,191.8 L519.1,194.7 L516.9,197.6 L517.6,202.0 L519.1,206.4 L520.6,209.3 L522.7,211.5 L524.2,215.1 L524.9,219.5 L526.4,223.1 L529.7,226.0 M529.7,226.0 L532.2,229.7 L535.1,235.0 M529.8,224.6 L532.3,229.2 L535.6,235.1 L539.0,239.3 L540.7,243.5 L540.3,246.0 L537.3,248.5 M552.3,381.8 L555.4,380.7 M574.9,380.7 L581.2,386.2 M574.9,395.2 L580.3,397.0 M76.8,66.5 L79.2,70.7 L81.6,73.6 L82.7,76.0 M523.5,194.0 L521.3,197.6 L522.7,200.6 L520.6,203.5 L523.5,205.7 L522.0,207.8 L524.9,209.3 L526.4,212.2 L527.8,215.1 L527.1,218.0 L529.3,220.9" fill="none" stroke="#111" stroke-width="1.8" stroke-linejoin="round" stroke-linecap="round" vector-effect="non-scaling-stroke"/><path d="M60.2,271.2 L62.5,272.6 L65.5,273.3 L69.6,273.8 M377.2,109.5 L381.9,105.2 M413.2,133.1 L413.9,134.5 M522.0,192.6 L517.6,195.5 L516.2,197.6 L518.4,199.1 L516.9,201.3 L519.1,204.2 L517.6,206.4 L520.6,207.8 L519.8,210.7 L522.7,212.2 L522.0,215.1 L524.9,218.0 L524.2,220.9 L527.1,223.8" fill="none" stroke="#111" stroke-width="2.0" stroke-linejoin="round" stroke-linecap="round" vector-effect="non-scaling-stroke"/><path d="M351.7,127.3 L356.4,122.6 L361.8,115.9 L365.2,113.2 L370.5,110.9 L374.6,108.2 L375.9,105.8 L375.6,102.5 L377.9,100.8 L381.3,97.1 L384.0,93.7 L386.6,93.4 L392.0,95.1 L398.7,94.4 L400.8,95.7 L403.4,101.1 L406.8,103.8 L412.2,103.5 L415.2,103.1 L414.9,107.2 L416.2,109.2 L418.9,111.2 L418.9,114.6 L417.5,116.6 M351.7,128.0 L355.1,127.7 L359.8,125.3 L363.8,123.3 L366.8,121.6 L364.8,126.3 L367.8,128.0 L371.9,125.3 L375.2,123.3 L379.3,121.3 L382.6,118.2 L385.3,115.2 L388.7,113.5 L390.7,113.9 L386.6,116.6 L385.3,119.9 L386.0,122.6 L388.0,120.3 L392.7,120.9 L396.0,125.3 L401.4,125.3 L405.5,122.6 L409.5,121.3 L416.2,118.9 L417.5,116.6 M374.6,108.2 L378.6,106.5 L383.3,103.1 L416.9,116.9 M396.1,143.9 L397.8,138.5 L399.5,133.1 L402.2,133.8 L403.5,135.2 L406.9,131.1 L410.2,129.8 L413.6,127.8 L416.3,128.4 L420.3,129.4 M396.1,143.9 L393.4,148.6 L393.1,151.3 L396.1,148.6 L399.5,143.2 L402.2,139.2 M402.2,139.2 L400.2,144.6 L398.1,149.9 L398.1,155.3 L396.8,160.7 L396.5,167.4 L398.1,175.0 M420.3,129.4 L419.0,132.5 L418.3,135.8 L419.6,136.5 L416.9,139.2 L415.6,140.5 L414.9,143.9 L411.6,143.2 L409.6,146.6 L408.9,150.6 L408.2,156.0 L408.9,162.0 L411.6,166.7 L412.9,170.8 L413.6,175.0 M421.0,130.4 L423.0,131.1 L427.0,132.8 L431.0,134.1 L434.4,135.8 L435.8,138.5 L435.1,140.5 L436.8,143.2 L437.1,147.2 L435.1,149.3 L433.7,151.9 L432.4,154.0 L433.1,156.6 L435.8,157.3 L437.8,154.0 L441.1,150.3 L443.8,151.3 L446.5,155.3 L448.5,160.7 L449.2,163.4 L448.5,168.1 L445.8,172.1 L444.5,175.0 M432.4,128.4 L440.5,133.1 L443.1,134.5 L447.2,145.2 L450.5,155.3 L449.2,162.0 M417.6,119.0 L423.7,121.0 L428.4,123.1 L433.7,122.4 L440.5,121.7 L448.5,121.7 L455.9,122.1 L459.3,125.1 M439.1,127.8 L443.8,125.7 L448.5,125.7 L448.5,129.1 L444.5,128.4 L439.1,127.8 M421.6,127.8 L432.4,127.4 L439.1,127.4 M450.5,132.5 L455.9,136.5 L455.2,138.5 L453.2,145.2 L452.5,148.6 L454.6,155.3 L453.9,158.0 L449.9,162.0 M460.2,126.0 L463.5,128.7 L465.5,131.4 L469.6,134.8 L466.9,136.1 L467.5,139.5 L463.5,139.8 L459.5,138.1 L456.1,136.5 L453.4,134.1 L450.4,132.4 M448.7,163.7 L448.4,167.0 L446.4,169.0 L447.4,171.4 L450.1,170.7 L449.1,167.4 M447.4,171.4 L445.4,173.7 L443.7,176.4 L442.7,179.1 M480.3,159.0 L482.0,157.6 L482.0,154.9 L480.3,152.9 M472.9,154.3 L474.9,149.6 L478.3,145.5 L483.7,142.8 L490.4,140.2 L493.7,138.1 L497.1,136.8 L500.5,136.1 L501.8,134.8 M472.9,154.3 L476.3,154.6 L480.3,152.9 L483.0,151.6 L487.0,149.9 L493.1,149.6 L499.1,148.2 L503.1,144.2 L505.5,142.8 L504.5,137.5 L501.8,135.4 M479.6,152.9 L480.3,151.6 L487.0,146.9 L493.7,144.9 L498.4,142.8 L501.8,136.5 M397.0,169.6 L397.9,178.1 L399.3,181.6 L401.5,186.1 L403.3,188.4 L406.9,188.4 L409.6,186.1 L411.3,181.6 L413.1,175.4 L413.1,169.6 M442.7,180.7 L443.8,181.8 L447.2,183.5 L449.2,183.2 L452.2,184.0 L455.6,182.4 L459.2,181.2 L461.2,178.4 L463.7,176.5 L466.5,174.5 L469.3,172.8 L472.4,170.1 L476.0,167.4 L479.1,163.8 L481.4,160.7 L482.3,158.4 M442.7,180.5 L449.4,179.0 L451.7,180.4 L453.4,179.0 L457.0,175.6 L460.9,171.7 L464.0,169.8 L466.6,168.7 L471.5,166.5 L476.0,163.4 L479.1,160.2 L481.4,158.4 M442.7,179.1 L445.0,175.6 L447.2,176.8 L450.3,175.8 L451.9,174.0 L453.9,172.3 L456.0,171.3 L457.5,168.4 L459.5,166.2 L461.5,165.0 L463.4,164.7 L467.9,164.9 L468.8,163.8 L471.1,161.6 L474.6,159.8 L479.1,158.4 L481.4,158.0" fill="none" stroke="#111" stroke-width="1.0" stroke-linejoin="round" stroke-linecap="round" vector-effect="non-scaling-stroke"/><path d="M532.0,67.2 L537.8,66.8 L544.4,67.5 M567.7,114.6 L565.5,117.9 L562.6,120.1 L559.7,122.3 L558.9,125.9 L558.2,129.6 L557.5,133.9 L557.1,136.5 L559.3,138.6 L558.2,143.0 L560.8,144.5 L563.7,148.1 L564.0,150.7 L562.6,151.7 M490.0,199.8 L494.4,197.6 L499.5,196.9 L503.1,199.1 L504.6,202.0 L506.7,201.3 L508.9,202.7 L511.8,203.5 L512.6,206.4 L511.1,209.3 L514.7,212.2 L519.1,215.1 L523.5,218.0 L525.7,220.9 M512.6,270.8 L509.6,274.5 L507.9,278.7 L506.3,282.9 L503.7,286.3 L500.4,289.7 L497.0,293.0 L494.5,295.5 L492.8,300.0 M530.6,235.9 L534.0,236.8 L534.8,240.1 L533.1,243.5 L530.6,245.2 M482.7,349.5 L482.2,359.0 L484.9,357.7 L486.7,359.0 L484.5,360.8 L484.5,362.7 L488.1,367.2 L492.6,370.8 L494.4,374.4 L497.1,377.1 L500.7,380.7 L504.4,381.6 L508.0,385.3 L509.8,388.9 L512.5,388.9 L517.0,387.1 L519.3,385.3 M506.2,349.5 L510.7,355.4 L516.1,362.7 L518.4,368.1 L519.3,377.1 L518.4,381.6 L518.8,386.2 M544.1,381.6 L547.8,383.5 L551.4,388.0 L550.5,390.7 L545.0,389.8 L544.1,381.6 M551.4,392.5 L555.0,393.4 L556.8,397.9 L555.0,399.3 L551.8,395.2 L551.4,392.5 M498.0,421.4 L502.5,418.7 L510.7,417.8 L520.6,416.0 L528.8,417.4 L535.1,417.8 L538.7,419.6 L542.3,419.6 L546.9,417.8 L551.4,417.4 L556.8,419.6 L559.5,421.4 M338.2,351.7 L341.1,351.1 L341.7,354.1 L339.9,355.8 M320.5,365.8 L322.9,367.6 L324.6,368.8 L326.4,367.0 M307.6,383.5 L311.1,382.3 L314.7,377.6 L319.4,372.9 L322.9,369.4 M313.6,402.4 L314.8,406.0 L312.4,412.0 L310.7,419.7" fill="none" stroke="#111" stroke-width="1.45" stroke-linejoin="round" stroke-linecap="round" vector-effect="non-scaling-stroke"/><path d="M583.7,100.7 L581.5,101.4 L580.0,103.6 L577.9,104.3 L576.4,106.5 L574.9,107.9 L572.8,109.4 L571.3,110.8 L569.8,112.3 L567.7,114.5 L566.9,116.7 L564.8,118.1 L563.3,119.6 L560.4,122.0 M563.2,154.3 L564.4,154.7 M569.8,153.6 L571.7,153.9 M69.0,338.8 L70.0,342.2 M102.5,356.5 L103.2,359.9" fill="none" stroke="#111" stroke-width="2.2" stroke-linejoin="round" stroke-linecap="round" vector-effect="non-scaling-stroke"/><path d="M555.3,148.8 L556.4,152.8 L557.5,151.4 L558.9,154.3 L557.5,157.2 M538.6,165.9 L543.7,162.3 L549.5,160.1 L555.3,157.9 L558.2,157.2 L561.8,154.3 M537.8,167.4 L543.7,165.9 L550.9,163.0 L554.6,162.3 L549.5,165.9 L543.7,170.3 L537.8,173.2 L536.4,174.7 M524.6,189.6 L525.7,191.8 L529.3,194.0 L532.2,195.1 L533.7,197.3 M515.5,214.4 L520.6,217.3 L524.9,220.2 M91.7,300.2 L92.3,300.9 L95.1,307.6 L97.8,317.1 L100.5,328.0 L101.2,334.8 L105.9,340.2 L110.0,344.3 L114.1,351.1 L117.4,356.5 L115.4,361.9 L114.1,364.6 L110.0,363.9 L105.9,363.3 L108.6,367.3 L111.3,371.4 L116.8,376.8 L120.8,379.5 L124.2,378.9 L126.3,383.6 L131.7,389.0 L134.4,394.5 L135.1,399.9 L133.0,405.3 L132.4,408.0 L135.8,412.1 L141.2,416.2 L144.6,418.9 M114.7,310.4 L114.1,317.1 L114.7,325.3 L114.1,333.4 L116.8,337.5 L122.2,342.9 L126.3,349.7 L130.3,356.5 L131.7,363.3 L134.4,370.1 L138.5,378.2 L141.2,383.6 L144.6,387.7 M114.7,310.4 L124.9,315.8 L129.0,318.5 L133.0,322.6 L133.0,326.6 L135.8,337.5 L138.5,347.0 L139.8,352.4 L144.6,357.8 M124.9,342.9 L126.9,343.6 L129.0,349.7 L127.6,351.1 L125.6,347.0 L124.9,342.9 M137.1,349.7 L139.8,350.4 L139.2,355.1 L136.4,354.4 L137.1,349.7 M143.1,357.8 L149.9,367.3 L156.7,370.7 L156.0,376.8 L164.8,383.6 L170.9,390.4 L168.9,398.5 L174.3,402.6 L181.1,409.4 L187.9,419.6 L189.2,423.0 M144.6,387.7 L148.5,404.0 L151.3,412.1 L154.0,418.9 L154.6,423.0 M144.6,419.3 L146.5,423.0" fill="none" stroke="#111" stroke-width="1.2" stroke-linejoin="round" stroke-linecap="round" vector-effect="non-scaling-stroke"/><path d="M534.9,165.9 L534.2,171.8 L534.9,175.4 L537.8,176.8 L538.6,180.0 M546.0,170.0 L540.9,172.2 L536.6,173.6 L534.4,175.8 L537.3,177.3 L538.4,180.9 L538.4,186.7 L536.6,191.1 L535.1,194.7 L533.7,197.3 M524.2,189.6 L523.5,193.3 L526.4,196.2 L530.7,198.0 L533.3,201.3 L534.4,204.9 L533.7,209.3 L532.2,213.7 L530.7,217.3 L529.7,220.9 L529.3,223.1 M512.6,270.8 L518.8,268.7 L519.7,265.3 L522.2,260.3 L523.9,257.7 L529.8,255.2 L533.5,252.3 M420.0,337.0 L424.2,335.8 L428.4,333.7 L433.4,332.4 L438.5,332.4 L444.3,334.1 L447.7,337.0 L449.4,339.5 L453.6,339.5 L456.9,337.0 L460.3,333.7 L463.7,332.4 L467.9,333.7 L472.9,338.7 L478.8,342.9 L482.1,345.4 L482.6,350.5 L482.6,357.2 L485.5,358.0 L486.3,361.4 L485.5,365.0 M501.4,289.6 L495.6,293.4 L493.0,296.7 L491.4,300.9 L490.9,306.8 L489.7,311.8 L489.7,319.0 L492.2,323.6 L495.6,330.3 L499.8,337.0 L503.1,342.1 L506.5,347.1 L509.8,353.0 L513.2,358.8 L516.6,365.0 M352.3,350.0 L348.7,351.7 L344.0,354.1 L339.3,357.6 L334.6,361.1 L329.9,364.7 L325.2,367.0 L320.5,370.5 L317.0,374.1 L314.1,378.8 L312.3,384.6 L311.7,390.5 L312.3,396.4 L313.5,402.3 L314.1,405.8 M352.3,350.0 L358.1,349.4 L365.2,351.1 L372.3,350.5 L374.6,348.2 L377.0,349.4 L378.1,351.7 L382.8,352.9 L386.4,354.1 L390.0,354.1 M350.0,351.3 L352.2,349.6 L358.7,349.4 L364.2,351.3 L371.3,351.0 L371.8,348.6 L374.0,347.5 L377.3,348.6 L380.6,350.7 L382.7,352.9 L383.8,354.6 L388.2,355.4 L390.4,353.5 L393.1,354.0 L394.7,355.1 L395.8,352.9 L394.7,349.6 L397.5,350.2 L400.2,351.8 L403.5,352.9 L404.6,355.1 L407.3,354.6 L407.8,352.9 L405.7,351.3 L402.4,350.2 L400.2,348.6 L399.6,346.9 L401.8,345.3 L402.9,343.1 L401.3,342.3 L399.1,341.7 M399.1,341.7 L400.2,340.4 L402.4,338.7 L407.3,336.5 L412.7,336.0 L420.0,336.0 M390.4,341.5 L392.6,338.7 L395.3,338.7 L398.0,340.9 L396.4,342.5 L393.1,343.1 L390.6,342.0 M424.0,334.6 L428.2,332.9 L432.4,332.1 L440.0,331.2 M412.2,335.4 L415.6,332.1 L417.2,331.4 L418.9,334.6 L420.6,336.3 L424.0,334.6" fill="none" stroke="#111" stroke-width="1.55" stroke-linejoin="round" stroke-linecap="round" vector-effect="non-scaling-stroke"/><path d="M81.6,76.6 L83.9,80.7 L84.5,85.5 L83.9,90.2 L81.6,93.8 L78.0,95.6 L76.8,98.6 L80.4,99.7 L83.3,97.4 L85.1,90.2" fill="none" stroke="#111" stroke-width="2.6" stroke-linejoin="round" stroke-linecap="round" vector-effect="non-scaling-stroke"/><path d="M502.5,400.2 L508.0,397.0 L513.4,394.3 L517.0,390.7 L518.8,386.2" fill="none" stroke="#111" stroke-width="1.5" stroke-dasharray="3,1.6" vector-effect="non-scaling-stroke"/><circle cx="67.8" cy="283.9" r="1.0" fill="#000"/><circle cx="79.4" cy="284.4" r="1.1" fill="#000"/><circle cx="77.6" cy="290.2" r="1.1" fill="#000"/></g></defs>
<text x="123.00" y="26.70" font-size="17.50" textLength="352.44" lengthAdjust="spacingAndGlyphs" fill="#000">CSU-MLP (GEFS, v2020) day1 &amp; UFVS obs</text>
<text x="58.19" y="46.70" font-size="17.50" textLength="480.09" lengthAdjust="spacingAndGlyphs" fill="#000">issued 2025011100 for 24-hr period ending 2025011212</text>
<text x="868.64" y="26.70" font-size="17.50" textLength="230.67" lengthAdjust="spacingAndGlyphs" fill="#000">WPC ERO day1 &amp; UFVS obs</text>
<text x="743.29" y="46.70" font-size="17.50" textLength="479.79" lengthAdjust="spacingAndGlyphs" fill="#000">issued 2025011109 for 24-hr period ending 2025011212</text>
<text x="390.64" y="466.05" font-size="17.50" textLength="501.61" lengthAdjust="spacingAndGlyphs" fill="#000">NCEP Stage IV analysis for 24-h period ending 2025011212</text>
<g clip-path="url(#cTL)"><use href="#map"/><path d="M185.52,111.69 L187.81,112.73 L188.85,114.81 L189.17,116.90 L190.00,117.94 L188.96,119.50 L187.92,121.06 L186.25,122.10 L184.38,123.15 L182.71,121.58 L181.67,119.50 L180.94,117.42 L181.77,115.33 L182.60,113.77 L183.65,112.42Z" fill="#4a6f9f"/><path d="M486.26,223.98 L488.77,225.07 L490.29,227.17 L490.87,229.27 L490.03,231.37 L487.93,233.05 L485.84,233.47 L484.16,232.21 L482.90,230.53 L482.39,228.43 L483.32,226.33 L484.58,224.65Z" fill="#4a6f9f"/></g>
<g clip-path="url(#cTR)"><g transform="translate(685.15,0)"><use href="#map"/><path d="M185.52,111.69 L187.81,112.73 L188.85,114.81 L189.17,116.90 L190.00,117.94 L188.96,119.50 L187.92,121.06 L186.25,122.10 L184.38,123.15 L182.71,121.58 L181.67,119.50 L180.94,117.42 L181.77,115.33 L182.60,113.77 L183.65,112.42Z" fill="#4a6f9f"/><path d="M486.26,223.98 L488.77,225.07 L490.29,227.17 L490.87,229.27 L490.03,231.37 L487.93,233.05 L485.84,233.47 L484.16,232.21 L482.90,230.53 L482.39,228.43 L483.32,226.33 L484.58,224.65Z" fill="#4a6f9f"/></g></g>
<g clip-path="url(#cBM)"><path d="M482.7,493.3 L485.8,492.1 L488.2,494.1 L490.5,496.5 L491.3,499.6 L489.0,501.0 L486.6,499.6 L484.3,497.6 L482.7,495.7Z" fill="#460a5d"/><path d="M478.6,493.2 L479.7,492.5 L480.0,494.5 L478.8,495.0Z" fill="#460a5d"/><path d="M448.2,505.1 L451.3,503.9 L454.1,505.9 L454.9,509.0 L452.9,510.6 L452.1,513.7 L450.6,515.7 L448.6,515.3 L449.0,512.1 L447.8,509.0Z" fill="#482576"/><path d="M449.4,506.3 L451.7,505.1 L453.3,507.0 L452.9,509.0 L451.0,509.8 L449.8,508.6Z" fill="#404688"/><path d="M437.6,527.0 L441.2,525.8 L442.7,527.0 L442.3,530.9 L441.9,534.1 L443.5,538.0 L441.2,539.6 L438.8,538.8 L438.0,534.9 L436.8,530.9Z" fill="#482576"/><path d="M424.3,535.6 L425.9,534.7 L426.9,535.8 L425.5,536.8Z" fill="#460a5d"/><path d="M435.8,544.1 L436.8,543.6 L437.4,544.9 L436.3,545.4Z" fill="#460a5d"/><path d="M448.6,495.5 L449.8,495.3 L449.9,496.6 L448.8,496.8Z" fill="#460a5d"/><path d="M491.8,529.2 L494.9,527.6 L499.6,529.2 L502.7,531.5 L504.3,533.9 L505.9,535.5 L506.6,541.7 L505.1,547.2 L502.7,549.6 L499.6,551.9 L495.7,552.7 L491.8,551.1 L489.4,549.6 L490.2,544.9 L491.8,540.2 L491.4,533.9Z" fill="#482576"/><path d="M494.9,533.9 L498.8,533.1 L500.4,538.6 L499.6,544.9 L496.5,546.4 L494.1,543.3Z" fill="#404688"/><path d="M509.4,539.4 L511.3,539.4 L512.1,544.1 L509.8,544.1Z" fill="#460a5d"/><path d="M512.9,544.1 L515.3,540.2 L517.2,539.8 L514.9,544.9Z" fill="#460a5d"/><path d="M520.4,540.2 L521.9,540.2 L522.1,541.7 L520.6,541.9Z" fill="#460a5d"/><path d="M511.3,517.0 L513.7,517.4 L514.9,521.3 L513.3,521.7Z" fill="#460a5d"/><path d="M521.5,508.4 L523.5,506.1 L524.7,506.8 L522.7,509.2Z" fill="#460a5d"/><path d="M534.1,512.7 L536.4,511.2 L538.8,512.7 L538.0,515.1 L535.6,515.9Z" fill="#482576"/><path d="M541.1,505.7 L543.5,503.7 L548.2,504.1 L553.7,504.5 L557.6,506.5 L559.9,507.6 L557.6,509.2 L552.1,509.6 L546.6,508.8 L541.5,509.2Z" fill="#482576"/><path d="M544.3,522.1 L547.4,521.3 L549.7,522.5 L548.2,524.5 L545.8,524.5Z" fill="#460a5d"/><path d="M554.5,525.3 L556.4,524.9 L557.2,526.8 L555.2,527.5Z" fill="#460a5d"/><path d="M526.2,528.4 L528.6,528.8 L531.7,529.2 L536.4,527.6 L540.3,526.8 L544.3,529.2 L545.0,533.9 L542.7,538.6 L539.6,540.2 L537.2,543.3 L534.1,544.1 L531.7,541.7 L530.2,538.6 L527.8,533.9 L527.0,530.8Z" fill="#482576"/><path d="M530.9,532.3 L534.9,530.0 L539.6,528.4 L541.9,531.5 L540.3,536.2 L536.4,538.6 L533.3,537.0Z" fill="#404688"/><path d="M534.9,532.3 L538.8,530.0 L540.0,533.9 L537.2,536.2Z" fill="#287d8e"/><path d="M545.4,535.5 L549.0,534.3 L550.9,536.2 L550.5,540.2 L548.2,541.7 L545.4,540.2Z" fill="#404688"/><path d="M559.5,531.5 L563.1,530.4 L566.2,533.1 L564.6,536.2 L560.7,535.8Z" fill="#460a5d"/><path d="M558.4,540.2 L559.9,539.4 L562.3,543.3 L562.3,548.0 L559.9,549.6 L557.6,546.4Z" fill="#460a5d"/><path d="M529.0,554.3 L531.7,552.3 L534.9,552.7 L533.3,555.4 L530.2,555.8Z" fill="#460a5d"/><path d="M537.4,544.9 L538.6,544.9 L538.8,548.8 L537.6,548.9Z" fill="#460a5d"/><path d="M537.1,554.3 L538.2,554.3 L538.4,557.4 L537.2,557.6Z" fill="#460a5d"/><path d="M526.2,528.8 L528.0,528.4 L528.2,530.8 L526.9,531.1Z" fill="#460a5d"/><path d="M558.0,543.1 L559.6,540.0 L561.2,540.0 L562.7,544.7 L561.2,548.6 L565.1,547.8 L571.3,551.0 L577.6,550.2 L580.0,552.5 L581.5,556.5 L577.6,558.8 L572.9,560.4 L570.6,561.2 L565.9,563.5 L563.5,568.2 L561.2,567.4 L557.2,564.3 L555.7,561.9 L553.3,558.0 L554.9,554.9 L558.8,553.3 L558.0,549.4 L557.2,546.3Z" fill="#460a5d"/><path d="M555.7,560.4 L560.4,558.8 L563.5,561.9 L561.9,565.9 L558.8,565.1Z" fill="#482576"/><path d="M570.6,554.1 L574.5,553.3 L576.1,555.7 L572.9,557.2Z" fill="#482576"/><path d="M585.5,569.8 L587.0,568.2 L589.4,569.8 L594.9,570.2 L597.6,572.9 L596.4,575.3 L592.5,576.4 L590.2,574.5 L587.0,572.1Z" fill="#482576"/><path d="M555.7,580.4 L558.8,579.2 L562.7,577.6 L563.9,580.0 L561.9,582.7 L559.6,581.5Z" fill="#482576"/><path d="M571.0,591.6 L572.5,591.3 L573.9,593.3 L572.1,593.9Z" fill="#460a5d"/><path d="M603.5,587.8 L605.0,587.0 L611.3,594.9 L617.6,601.5 L616.4,602.3 L609.7,596.4 L604.3,590.2Z" fill="#460a5d"/><path d="M636.8,557.2 L640.0,556.8 L640.0,563.5 L638.7,562.7Z" fill="#460a5d"/><path d="M545.5,540.0 L551.0,540.0 L550.2,541.6 L547.1,541.7Z" fill="#482576"/><path d="M540.0,558.2 L541.6,558.7 L541.4,559.7 L540.0,559.6Z" fill="#460a5d"/><path d="M556.9,601.6 L558.7,601.2 L564.5,607.9 L566.8,611.5 L566.3,616.9 L564.5,619.6 L561.8,619.6 L559.1,616.9 L557.3,612.4 L556.5,607.0Z" fill="#482576"/><path d="M561.8,612.4 L564.5,611.5 L565.9,616.0 L563.2,618.7Z" fill="#404688"/><path d="M545.7,624.5 L550.2,622.3 L552.0,618.7 L557.3,617.8 L560.0,619.6 L559.1,624.1 L557.3,627.6 L553.8,629.9 L550.2,627.6 L546.6,626.7Z" fill="#482576"/><path d="M559.1,631.2 L562.7,627.6 L565.4,625.4 L568.1,627.6 L566.3,630.3 L562.7,632.1 L559.1,633.9Z" fill="#482576"/><path d="M566.3,604.3 L568.1,603.0 L570.8,604.8 L570.3,607.9 L568.1,608.8 L566.3,607.0Z" fill="#404688"/><path d="M569.0,612.4 L572.6,611.5 L574.4,615.1 L574.8,620.5 L572.6,621.4 L569.9,619.6 L569.0,616.9Z" fill="#482576"/><path d="M569.4,624.5 L572.1,624.1 L572.6,627.6 L570.3,630.3 L569.0,628.5Z" fill="#460a5d"/><path d="M578.9,640.2 L581.5,638.4 L584.2,640.2 L585.1,647.3 L583.3,651.8 L579.7,654.5 L577.1,657.2 L575.3,659.9 L574.4,658.1 L575.7,654.5 L577.1,650.9 L578.0,645.6Z" fill="#482576"/><path d="M580.2,642.0 L582.9,641.1 L583.8,647.3 L581.1,650.9 L579.3,648.2Z" fill="#404688"/><path d="M550.2,643.8 L554.2,643.8 L554.7,647.3 L550.6,647.8Z" fill="#482576"/><path d="M517.3,606.4 L519.4,606.4 L519.4,608.5 L517.3,608.5Z" fill="#460a5d"/><path d="M522.2,608.2 L524.4,608.2 L524.4,610.3 L522.2,610.3Z" fill="#460a5d"/><path d="M527.2,609.5 L529.3,609.5 L529.3,611.7 L527.2,611.7Z" fill="#460a5d"/><path d="M533.9,607.7 L536.0,607.7 L536.0,609.9 L533.9,609.9Z" fill="#460a5d"/><path d="M512.4,610.9 L514.5,610.9 L514.5,613.0 L512.4,613.0Z" fill="#460a5d"/><path d="M516.4,617.4 L518.5,617.4 L518.5,619.6 L516.4,619.6Z" fill="#460a5d"/><path d="M519.5,623.4 L521.7,623.4 L521.7,625.6 L519.5,625.6Z" fill="#460a5d"/><path d="M508.3,630.6 L510.5,630.6 L510.5,632.7 L508.3,632.7Z" fill="#460a5d"/><path d="M514.9,630.9 L517.0,630.9 L517.0,633.0 L514.9,633.0Z" fill="#460a5d"/><path d="M520.4,593.0 L522.6,593.0 L522.6,595.1 L520.4,595.1Z" fill="#460a5d"/><path d="M571.1,591.2 L573.2,591.2 L573.2,593.3 L571.1,593.3Z" fill="#460a5d"/><path d="M553.8,634.4 L555.9,634.4 L555.9,636.6 L553.8,636.6Z" fill="#460a5d"/><path d="M564.5,640.4 L566.7,640.4 L566.7,642.6 L564.5,642.6Z" fill="#460a5d"/><path d="M572.0,667.8 L574.1,667.8 L574.1,669.9 L572.0,669.9Z" fill="#460a5d"/><path d="M511.5,615.1 L513.6,615.1 L513.6,617.2 L511.5,617.2Z" fill="#460a5d"/><path d="M517.7,609.5 L519.9,609.5 L519.9,611.7 L517.7,611.7Z" fill="#460a5d"/><path d="M637.9,529.0 L641.2,527.1 L644.0,526.2 L646.8,528.1 L649.6,529.0 L652.4,528.1 L656.1,527.1 L658.9,527.1 L660.8,530.9 L665.5,531.8 L669.2,533.2 L674.8,532.7 L680.4,532.7 L684.2,531.8 L688.9,532.7 L695.4,532.7 L697.3,529.9 L700.1,528.1 L702.9,527.1 L701.9,529.0 L698.2,532.7 L697.3,536.5 L701.0,538.3 L702.9,537.4 L702.9,541.2 L705.7,543.0 L708.5,545.8 L705.7,548.6 L702.9,552.4 L701.9,555.2 L699.1,558.0 L697.3,560.8 L693.5,564.5 L689.8,563.6 L686.0,560.8 L684.2,557.1 L682.3,554.2 L679.5,555.2 L677.6,558.9 L673.0,559.9 L669.2,557.1 L667.3,553.3 L665.5,548.6 L664.5,545.8 L661.7,546.8 L659.9,546.8 L656.1,544.9 L657.1,543.0 L659.9,541.2 L656.1,542.1 L653.3,543.0 L652.4,546.8 L652.4,549.6 L649.6,549.6 L646.8,546.8 L645.8,543.0 L643.0,540.2 L640.2,537.4 L638.3,532.7Z" fill="#460a5d"/><path d="M619.2,523.4 L621.5,521.5 L623.4,520.6 L625.7,523.4 L625.3,527.1 L622.4,528.1 L619.6,526.7Z" fill="#460a5d"/><path d="M622.3,517.6 L623.6,517.6 L623.6,519.2 L622.3,519.2Z" fill="#460a5d"/><path d="M636.5,557.1 L639.3,557.1 L642.1,556.1 L645.8,556.1 L644.9,559.9 L644.0,564.1 L641.2,564.1 L638.3,561.7Z" fill="#460a5d"/><path d="M873.4,534.8 L874.9,533.9 L876.8,535.7 L877.1,536.9 L875.2,536.6 L873.7,536.3Z" fill="#460a5d"/><path d="M878.9,554.5 L880.8,553.6 L882.0,555.1 L881.7,556.9 L882.0,558.8 L880.8,559.4 L879.2,557.6Z" fill="#460a5d"/><path d="M886.3,554.5 L888.2,552.9 L890.0,553.9 L890.6,556.3 L888.8,556.9 L886.6,556.3Z" fill="#460a5d"/><path d="M869.1,532.0 L870.3,532.0 L870.3,533.2 L869.1,533.2Z" fill="#460a5d"/><path d="M870.0,530.8 L871.2,530.8 L871.2,532.0 L870.0,532.0Z" fill="#460a5d"/><path d="M865.7,536.1 L866.9,536.1 L866.9,537.4 L865.7,537.4Z" fill="#460a5d"/><path d="M872.5,554.7 L873.7,554.7 L873.7,555.9 L872.5,555.9Z" fill="#460a5d"/><path d="M874.3,559.1 L875.6,559.1 L875.6,560.3 L874.3,560.3Z" fill="#460a5d"/><path d="M881.7,565.1 L882.9,565.1 L882.9,566.3 L881.7,566.3Z" fill="#460a5d"/><path d="M750.2,556.1 L751.5,555.4 L753.5,556.8 L755.4,558.8 L754.9,560.5 L753.8,560.2 L751.8,558.1Z" fill="#460a5d"/><path d="M833.5,551.7 L834.7,551.7 L834.7,552.9 L833.5,552.9Z" fill="#482576"/><path d="M889.3,510.2 L890.7,510.2 L890.7,511.6 L889.3,511.6Z" fill="#482576"/><path d="M500.3,586.8 L502.9,586.8 L502.9,589.4 L500.3,589.4Z" fill="#482576"/><path d="M518.8,593.1 L520.8,593.1 L520.8,595.1 L518.8,595.1Z" fill="#482576"/><path d="M529.1,585.5 L530.9,585.5 L530.9,587.3 L529.1,587.3Z" fill="#482576"/><path d="M502.6,588.6 L504.4,588.6 L504.4,590.4 L502.6,590.4Z" fill="#482576"/><g transform="translate(380.000,477.150) scale(0.9165) translate(-13.65,-57.7)"><use href="#map"/></g></g>
<rect x="13.65" y="57.70" width="570.65" height="363.30" fill="none" stroke="#000" stroke-width="1.2"/>
<rect x="698.80" y="57.70" width="570.60" height="363.30" fill="none" stroke="#000" stroke-width="1.2"/>
<rect x="380.00" y="477.15" width="523.10" height="332.85" fill="none" stroke="#000" stroke-width="1.2"/>
<rect x="14.20" y="334.10" width="136.90" height="85.90" fill="#fff" stroke="#000" stroke-width="2.0"/>
<rect x="699.20" y="334.10" width="106.40" height="85.70" fill="#fff" stroke="#000" stroke-width="2.0"/>
<text x="21.30" y="350.90" font-size="13.12" textLength="120.91" lengthAdjust="spacingAndGlyphs" fill="#1a1a1a">CSU-MLP coverage</text>
<text x="705.99" y="350.90" font-size="13.12" textLength="90.80" lengthAdjust="spacingAndGlyphs" fill="#1a1a1a">ERO coverage</text>
<text x="20.86" y="365.65" font-size="13.12" textLength="69.40" lengthAdjust="spacingAndGlyphs" fill="#1a1a1a">MRGL: nan</text>
<text x="706.01" y="365.65" font-size="13.12" textLength="69.40" lengthAdjust="spacingAndGlyphs" fill="#1a1a1a">MRGL: nan</text>
<text x="21.38" y="380.40" font-size="13.12" textLength="63.37" lengthAdjust="spacingAndGlyphs" fill="#1a1a1a">SLGT: nan</text>
<text x="706.53" y="380.40" font-size="13.12" textLength="63.37" lengthAdjust="spacingAndGlyphs" fill="#1a1a1a">SLGT: nan</text>
<text x="20.83" y="395.15" font-size="13.12" textLength="59.76" lengthAdjust="spacingAndGlyphs" fill="#1a1a1a">MDT: nan</text>
<text x="705.98" y="395.15" font-size="13.12" textLength="59.76" lengthAdjust="spacingAndGlyphs" fill="#1a1a1a">MDT: nan</text>
<text x="20.84" y="409.90" font-size="13.12" textLength="65.40" lengthAdjust="spacingAndGlyphs" fill="#1a1a1a">HIGH: nan</text>
<text x="705.99" y="409.90" font-size="13.12" textLength="65.40" lengthAdjust="spacingAndGlyphs" fill="#1a1a1a">HIGH: nan</text>
<rect x="318.90" y="383.40" width="169.80" height="28.30" fill="#fff" stroke="#000" stroke-width="1.8"/>
<text x="325.55" y="401.70" font-size="14.58" textLength="155.44" lengthAdjust="spacingAndGlyphs" fill="#1a1a1a">CSU-MLP BSS = 0.199</text>
<rect x="1003.60" y="383.40" width="140.40" height="28.20" fill="#fff" stroke="#000" stroke-width="1.8"/>
<text x="1010.99" y="401.70" font-size="14.58" textLength="125.12" lengthAdjust="spacingAndGlyphs" fill="#1a1a1a">WPC BSS = 0.199</text>
<rect x="455.40" y="813.85" width="37.49" height="12.25" fill="#460a5d"/>
<rect x="492.59" y="813.85" width="37.49" height="12.25" fill="#482576"/>
<rect x="529.78" y="813.85" width="37.49" height="12.25" fill="#404688"/>
<rect x="566.97" y="813.85" width="37.49" height="12.25" fill="#33638d"/>
<rect x="604.16" y="813.85" width="37.49" height="12.25" fill="#287d8e"/>
<rect x="641.35" y="813.85" width="37.49" height="12.25" fill="#1f968b"/>
<rect x="678.54" y="813.85" width="37.49" height="12.25" fill="#29af7f"/>
<rect x="715.73" y="813.85" width="37.49" height="12.25" fill="#56c667"/>
<rect x="752.92" y="813.85" width="37.49" height="12.25" fill="#95d840"/>
<rect x="790.11" y="813.85" width="37.49" height="12.25" fill="#dde318"/>
<rect x="455.40" y="813.85" width="371.90" height="12.25" fill="none" stroke="#000" stroke-width="1.1"/>
<line x1="455.40" y1="826.1" x2="455.40" y2="832.40" stroke="#000" stroke-width="1.1"/>
<text x="451.17" y="852.50" font-size="16.04" textLength="8.47" lengthAdjust="spacingAndGlyphs" fill="#1a1a1a">5</text>
<line x1="529.78" y1="826.1" x2="529.78" y2="832.40" stroke="#000" stroke-width="1.1"/>
<text x="520.24" y="852.50" font-size="16.04" textLength="18.90" lengthAdjust="spacingAndGlyphs" fill="#1a1a1a">20</text>
<line x1="604.16" y1="826.1" x2="604.16" y2="832.40" stroke="#000" stroke-width="1.1"/>
<text x="594.90" y="852.50" font-size="16.04" textLength="18.81" lengthAdjust="spacingAndGlyphs" fill="#1a1a1a">40</text>
<line x1="678.54" y1="826.1" x2="678.54" y2="832.40" stroke="#000" stroke-width="1.1"/>
<text x="668.98" y="852.50" font-size="16.04" textLength="18.95" lengthAdjust="spacingAndGlyphs" fill="#1a1a1a">60</text>
<line x1="752.92" y1="826.1" x2="752.92" y2="832.40" stroke="#000" stroke-width="1.1"/>
<text x="743.47" y="852.50" font-size="16.04" textLength="18.85" lengthAdjust="spacingAndGlyphs" fill="#1a1a1a">80</text>
<line x1="827.30" y1="826.1" x2="827.30" y2="832.40" stroke="#000" stroke-width="1.1"/>
<text x="812.88" y="852.50" font-size="16.04" textLength="28.21" lengthAdjust="spacingAndGlyphs" fill="#1a1a1a">100</text>
<text x="595.93" y="875.80" font-size="16.04" textLength="91.37" lengthAdjust="spacingAndGlyphs" fill="#1a1a1a">precip(mm)</text>
</svg></body></html>
